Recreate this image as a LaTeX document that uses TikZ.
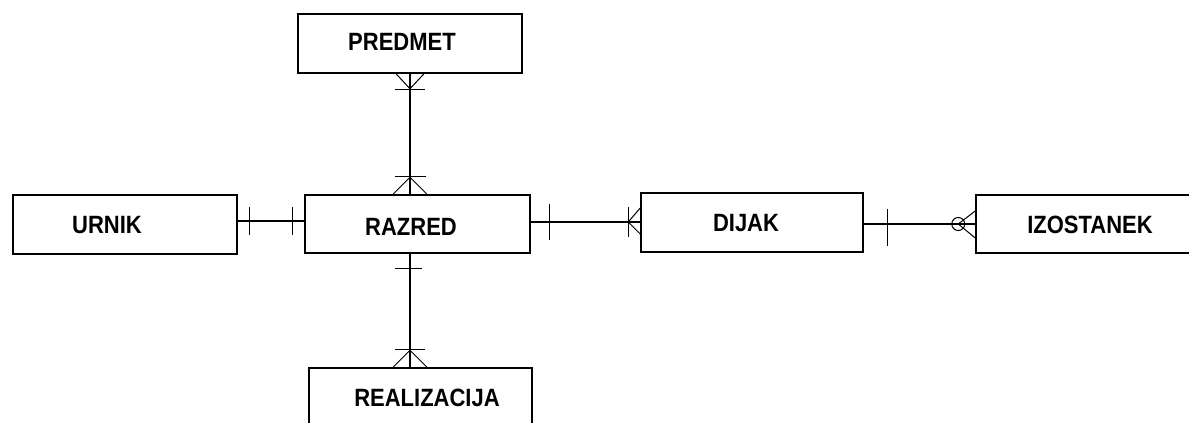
\documentclass[tikz,border=0pt]{standalone}
\usepackage{fontspec}
\setmainfont{Liberation Sans}
\newfontfamily\entfont[FakeStretch=0.88]{Liberation Sans}
\usetikzlibrary{calc}
\tikzset{
  ent/.style={draw, line width=1.5pt, inner sep=0pt, minimum height=59pt},
  lbl/.style={inner sep=0pt, font=\entfont\fontsize{25}{30}\selectfont\bfseries},
  rel/.style={line width=1.3pt},
  tick/.style={line width=1.3pt},
  foot/.style={line width=1pt}
}
\begin{document}
\begin{tikzpicture}[x=1pt, y=-1pt]
  \useasboundingbox (0,0) rectangle (1189,423);
  \clip (0,0) rectangle (1189,423);
  \fill[white] (0,0) rectangle (1189,423);

  % entity boxes
  \node[ent, minimum width=224pt] (predmet) at (410,43.5) {};
  \node[ent, minimum width=224pt] (urnik) at (125,224.5) {};
  \node[ent, minimum width=225pt, minimum height=58pt] (razred) at (417.5,224) {};
  \node[ent, minimum width=222pt] (dijak) at (752,222.5) {};
  \node[ent, minimum width=228pt, minimum height=58pt] (izostanek) at (1090,224) {};
  \node[ent, minimum width=223pt] (realizacija) at (420.5,397.5) {};

  % entity names
  \node[lbl] (predmet-t) at (402,42) {PREDMET};
  \node[lbl] (urnik-t) at (107,225) {URNIK};
  \node[lbl] (razred-t) at (411,227) {RAZRED};
  \node[lbl] (dijak-t) at (746,223) {DIJAK};
  \node[lbl] (izostanek-t) at (1090,225) {IZOSTANEK};
  \node[lbl] (realizacija-t) at (427,398) {REALIZACIJA};

  % routing guides
  \coordinate (vx) at (410,0);
  \coordinate (hu) at (0,221);
  \coordinate (hd) at (0,222);
  \coordinate (hi) at (0,224);

  % PREDMET -- RAZRED (many to many)
  \draw[rel] (predmet.south -| vx) -- (razred.north -| vx);
  \draw[foot] ($(predmet.south -| vx)+(-14,0)$) -- ($(predmet.south -| vx)+(0,15)$) -- ($(predmet.south -| vx)+(14,0)$);
  \draw[tick] ($(predmet.south -| vx)+(-15,16)$) -- ($(predmet.south -| vx)+(15,16)$);
  \draw[foot] ($(razred.north -| vx)+(-17,0)$) -- ($(razred.north -| vx)+(0,-17)$) -- ($(razred.north -| vx)+(17,0)$);
  \draw[tick] ($(razred.north -| vx)+(-15,-18)$) -- ($(razred.north -| vx)+(16,-18)$);

  % URNIK -- RAZRED (one to one)
  \draw[rel] (urnik.east |- hu) -- (razred.west |- hu);
  \draw[tick] ($(urnik.east |- hu)+(12,-14)$) -- ($(urnik.east |- hu)+(12,14)$);
  \draw[tick] ($(razred.west |- hu)+(-12,-14)$) -- ($(razred.west |- hu)+(-12,14)$);

  % RAZRED -- DIJAK (one to many)
  \draw[rel] (razred.east |- hd) -- (dijak.west |- hd);
  \draw[tick] ($(razred.east |- hd)+(19,-18)$) -- ($(razred.east |- hd)+(19,18)$);
  \draw[tick] ($(dijak.west |- hd)+(-12,-15)$) -- ($(dijak.west |- hd)+(-12,15)$);
  \draw[foot] ($(dijak.west |- hd)+(0,-14)$) -- ($(dijak.west |- hd)+(-12,0)$) -- ($(dijak.west |- hd)+(0,12)$);

  % RAZRED -- REALIZACIJA (one to many)
  \draw[rel] (razred.south -| vx) -- (realizacija.north -| vx);
  \draw[tick] ($(razred.south -| vx)+(-15,15)$) -- ($(razred.south -| vx)+(12,15)$);
  \draw[tick] ($(realizacija.north -| vx)+(-15,-18)$) -- ($(realizacija.north -| vx)+(15,-18)$);
  \draw[foot] ($(realizacija.north -| vx)+(-17,0)$) -- ($(realizacija.north -| vx)+(0,-17)$) -- ($(realizacija.north -| vx)+(17,0)$);

  % DIJAK -- IZOSTANEK (one to zero or many)
  \draw[rel] (dijak.east |- hi) -- (izostanek.west |- hi);
  \draw[tick] ($(dijak.east |- hi)+(24,-15)$) -- ($(dijak.east |- hi)+(24,22)$);
  \draw[foot] ($(izostanek.west |- hi)+(0,-13)$) -- ($(izostanek.west |- hi)+(-17,0)$) -- ($(izostanek.west |- hi)+(0,14)$);
  \draw[foot] ($(izostanek.west |- hi)+(-17,0)$) circle[radius=6.5pt];
\end{tikzpicture}
\end{document}
